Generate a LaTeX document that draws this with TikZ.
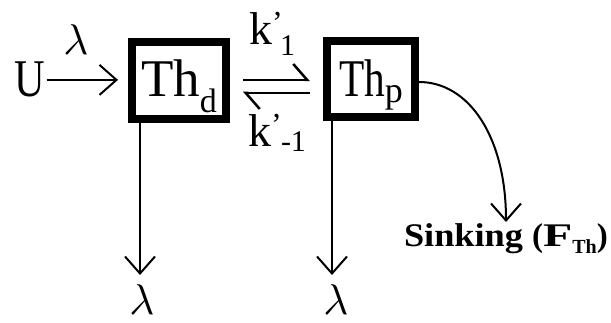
\documentclass[tikz,border=0pt]{standalone}
\usepackage{fontspec}
\usepackage{graphicx}
\setmainfont{Liberation Serif}
\usetikzlibrary{arrows.meta,calc}
\begin{document}
\begin{tikzpicture}[x=1pt,y=-1pt,
  box/.style={draw,line width=8pt,inner sep=0pt,font=\fontsize{53}{60}\selectfont},
  lbl/.style={inner sep=0pt,outer sep=0pt},
  big/.style={font=\fontsize{53}{60}\selectfont},
  lam/.style={lbl},
  kk/.style={lbl,anchor=base west,font=\fontsize{46}{50}\selectfont},
  conn/.style={line width=2pt,-{Straight Barb[length=17pt,width=30pt,line width=2pt]}},
  harp/.style={line width=2.5pt,-{Straight Barb[harpoon,length=14pt,width=32pt,line width=2.5pt]}}
]
\useasboundingbox (0,0) rectangle (611,323);

\node[lbl,big,anchor=base west] (U) at (14,97) {\scalebox{0.8}[1]{U}};
\node[box,minimum width=94pt,minimum height=77pt,text height=40pt,text depth=7pt] (thd) at (179,80.5)
  {Th\raisebox{-16pt}{\fontsize{34}{34}\selectfont d}\hspace{4pt}};
\node[box,minimum width=88pt,minimum height=76pt,text height=40pt,text depth=4pt] (thp) at (371,79)
  {\scalebox{0.78}[1]{Th}\raisebox{-6pt}{\fontsize{36}{36}\selectfont p}};

\node[lam] (lamU) at (76,40) {\scalebox{4.3}{$\lambda$}};
\draw[conn] ([xshift=2pt]U.east) -- ([xshift=-10pt]U.east -| thd.west);

\node[kk] (k1) at (249,45) {k\rlap{\raisebox{11pt}{\fontsize{32}{32}\selectfont ’}}\kern8pt\raisebox{-11pt}{\fontsize{30}{30}\selectfont 1}};
\node[kk] (km1) at (248,147) {k\rlap{\raisebox{11pt}{\fontsize{32}{32}\selectfont ’}}\kern10pt\raisebox{-5pt}{\fontsize{30}{30}\selectfont -1}};

\draw[harp] ($(thd.east)+(13,-0.5)$) -- ($(thd.east -| thp.west)+(-13,-0.5)$);
\draw[harp] ($(thd.east -| thp.west)+(-13,12.5)$) -- ($(thd.east)+(13,12.5)$);

\node[lam] (lam1) at (142,300) {\scalebox{4.3}{$\lambda$}};
\node[lam] (lam2) at (336,300) {\scalebox{4.3}{$\lambda$}};
\coordinate (t1) at (140,275);
\coordinate (t2) at (332,275);
\draw[conn] (t1 |- thd.south) -- (t1);
\draw[conn] (t2 |- thp.south) -- (t2);

\node[lbl,anchor=base west,font=\bfseries\fontsize{33}{36}\selectfont] (sink) at (404,247)
  {\scalebox{1.1}[1]{Sinking}\hspace{9pt}(\scalebox{1.45}[1]{F}\raisebox{-7pt}{\fontsize{20}{20}\selectfont Th})};
\coordinate (t3) at (506,222);
\draw[conn] ([yshift=-3pt]thp.east) .. controls +(50,0) and +(0,-85) .. (t3);
\end{tikzpicture}
\end{document}
